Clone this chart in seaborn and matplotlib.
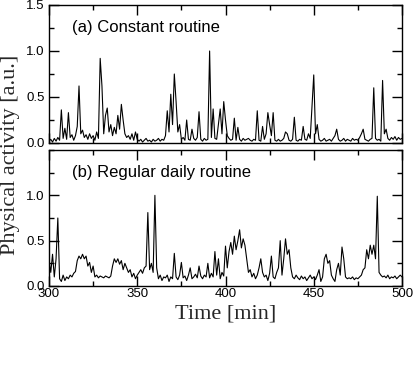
import numpy as np
import pandas as pd
import seaborn as sns
import matplotlib.pyplot as plt
from matplotlib.ticker import MultipleLocator

time = list(range(300, 501))

constant_routine = [
    0.02, 0.04, 0.01, 0.05, 0.02, 0.06, 0.03, 0.36, 0.05, 0.16,  # 300
    0.04, 0.33, 0.06, 0.09, 0.03, 0.08, 0.18, 0.62, 0.10, 0.14,  # 310
    0.06, 0.09, 0.04, 0.10, 0.05, 0.08, 0.03, 0.12, 0.05, 0.92,  # 320
    0.62, 0.10, 0.30, 0.38, 0.12, 0.20, 0.08, 0.17, 0.10, 0.30,  # 330
    0.15, 0.42, 0.25, 0.10, 0.06, 0.08, 0.04, 0.10, 0.03, 0.12,  # 340
    0.04, 0.02, 0.04, 0.01, 0.03, 0.05, 0.02, 0.03, 0.01, 0.04,  # 350
    0.02, 0.03, 0.05, 0.02, 0.04, 0.03, 0.08, 0.35, 0.12, 0.53,  # 360
    0.20, 0.75, 0.45, 0.12, 0.20, 0.04, 0.06, 0.03, 0.25, 0.04,  # 370
    0.03, 0.15, 0.05, 0.03, 0.06, 0.34, 0.04, 0.02, 0.05, 0.03,  # 380
    0.04, 1.00, 0.06, 0.37, 0.05, 0.04, 0.20, 0.37, 0.10, 0.45,  # 390
    0.25, 0.08, 0.05, 0.03, 0.04, 0.27, 0.03, 0.17, 0.04, 0.02,  # 400
    0.05, 0.03, 0.04, 0.05, 0.03, 0.02, 0.04, 0.03, 0.35, 0.03,  # 410
    0.02, 0.18, 0.04, 0.10, 0.33, 0.20, 0.08, 0.33, 0.03, 0.02,  # 420
    0.04, 0.02, 0.03, 0.05, 0.12, 0.10, 0.03, 0.02, 0.04, 0.28,  # 430
    0.03, 0.02, 0.04, 0.03, 0.18, 0.04, 0.03, 0.10, 0.05, 0.40,  # 440
    0.74, 0.10, 0.20, 0.04, 0.02, 0.03, 0.05, 0.02, 0.03, 0.04,  # 450
    0.02, 0.05, 0.08, 0.15, 0.04, 0.02, 0.03, 0.05, 0.02, 0.04,  # 460
    0.03, 0.02, 0.05, 0.03, 0.04, 0.03, 0.06, 0.10, 0.15, 0.04,  # 470
    0.03, 0.02, 0.04, 0.05, 0.60, 0.05, 0.03, 0.04, 0.02, 0.68,  # 480
    0.10, 0.15, 0.05, 0.03, 0.06, 0.04, 0.07, 0.03, 0.06, 0.04,  # 490
    0.05,                                                        # 500
]

regular_routine = [
    0.28, 0.15, 0.35, 0.10, 0.30, 0.75, 0.08, 0.05, 0.12, 0.06,  # 300
    0.10, 0.08, 0.12, 0.10, 0.14, 0.16, 0.28, 0.33, 0.30, 0.35,  # 310
    0.30, 0.33, 0.22, 0.26, 0.15, 0.22, 0.10, 0.12, 0.09, 0.11,  # 320
    0.10, 0.09, 0.11, 0.10, 0.09, 0.11, 0.22, 0.30, 0.26, 0.30,  # 330
    0.24, 0.28, 0.18, 0.25, 0.20, 0.15, 0.18, 0.10, 0.14, 0.08,  # 340
    0.12, 0.15, 0.18, 0.14, 0.20, 0.22, 0.81, 0.18, 0.25, 0.15,  # 350
    1.00, 0.20, 0.08, 0.12, 0.06, 0.10, 0.09, 0.12, 0.05, 0.10,  # 360
    0.08, 0.36, 0.10, 0.07, 0.12, 0.26, 0.09, 0.11, 0.06, 0.12,  # 370
    0.20, 0.08, 0.10, 0.13, 0.09, 0.22, 0.11, 0.08, 0.12, 0.10,  # 380
    0.25, 0.09, 0.14, 0.10, 0.38, 0.12, 0.30, 0.08, 0.15, 0.11,  # 390
    0.44, 0.20, 0.38, 0.48, 0.35, 0.55, 0.40, 0.50, 0.62, 0.42,  # 400
    0.52, 0.45, 0.30, 0.15, 0.18, 0.10, 0.14, 0.08, 0.12, 0.20,  # 410
    0.30, 0.15, 0.10, 0.12, 0.06, 0.14, 0.33, 0.10, 0.08, 0.15,  # 420
    0.20, 0.50, 0.12, 0.30, 0.52, 0.35, 0.40, 0.20, 0.10, 0.08,  # 430
    0.12, 0.09, 0.07, 0.11, 0.08, 0.10, 0.06, 0.09, 0.12, 0.08,  # 440
    0.10, 0.07, 0.12, 0.18, 0.05, 0.10, 0.30, 0.35, 0.25, 0.28,  # 450
    0.12, 0.08, 0.05, 0.18, 0.25, 0.12, 0.43, 0.30, 0.10, 0.08,  # 460
    0.09, 0.08, 0.10, 0.07, 0.09, 0.08, 0.10, 0.12, 0.18, 0.20,  # 470
    0.40, 0.30, 0.45, 0.35, 0.45, 0.30, 0.99, 0.15, 0.12, 0.10,  # 480
    0.11, 0.09, 0.12, 0.08, 0.10, 0.09, 0.11, 0.08, 0.10, 0.12,  # 490
    0.10,                                                        # 500
]

panel_titles = ["(a) Constant routine", "(b) Regular daily routine"]
x_ticks = [300, 350, 400, 450, 500]
y_ticks_top = [0.0, 0.5, 1.0, 1.5]
y_ticks_bottom = [0.0, 0.5, 1.0]

assert len(constant_routine) == len(time) == len(regular_routine)

sns.set_style("ticks")
plt.rcParams['font.family'] = ['Liberation Sans', 'DejaVu Sans']

df = pd.DataFrame({"time": time, "constant": constant_routine,
                   "regular": regular_routine})

W, H = 414, 381
fig = plt.figure(figsize=(W / 100, H / 100), dpi=100)
ax1 = fig.add_axes([49 / W, 1 - 143 / H, 353 / W, 138 / H])
ax2 = fig.add_axes([49 / W, 1 - 286 / H, 353 / W, 136 / H])

for ax, col, title, yt in [(ax1, "constant", panel_titles[0], y_ticks_top),
                           (ax2, "regular", panel_titles[1], y_ticks_bottom)]:
    sns.lineplot(data=df, x="time", y=col, ax=ax, color="black",
                 linewidth=0.8, estimator=None)
    ax.set_xlim(300, 500)
    ax.set_ylim(0, 1.5)
    ax.set_xticks(x_ticks)
    ax.xaxis.set_minor_locator(MultipleLocator(25))
    ax.set_yticks(yt)
    ax.yaxis.set_minor_locator(MultipleLocator(0.25))
    ax.tick_params(which="both", direction="in", top=True, right=True,
                   labelsize=9.5, width=1, color="black", labelcolor="black")
    ax.tick_params(which="major", length=7, pad=3)
    ax.tick_params(axis="x", which="major", pad=1.5)
    ax.tick_params(which="minor", length=3.6)
    ax.set_xlabel("")
    ax.set_ylabel("")
    for s in ax.spines.values():
        s.set_linewidth(1)
        s.set_color("black")
    ax.text(0.065, 0.835, title, transform=ax.transAxes, fontsize=12,
            ha="left", va="center", color="black")

ax1.set_yticklabels([f"{v:.1f}" for v in y_ticks_top])
ax2.set_yticklabels([f"{v:.1f}" for v in y_ticks_bottom])
ax1.set_xticklabels([])
ax2.set_xticklabels([str(v) for v in x_ticks])

fig.text(226 / W, 1 - 314 / H, "Time [min]", ha="center", va="center",
         fontsize=16, family=["Liberation Serif", "DejaVu Serif"])
fig.text(11 / W, 1 - 155 / H, "Physical activity [a.u.]", ha="center",
         va="center", rotation=90, fontsize=16,
         family=["Liberation Serif", "DejaVu Serif"])

fig.savefig("out.png", dpi=100)
